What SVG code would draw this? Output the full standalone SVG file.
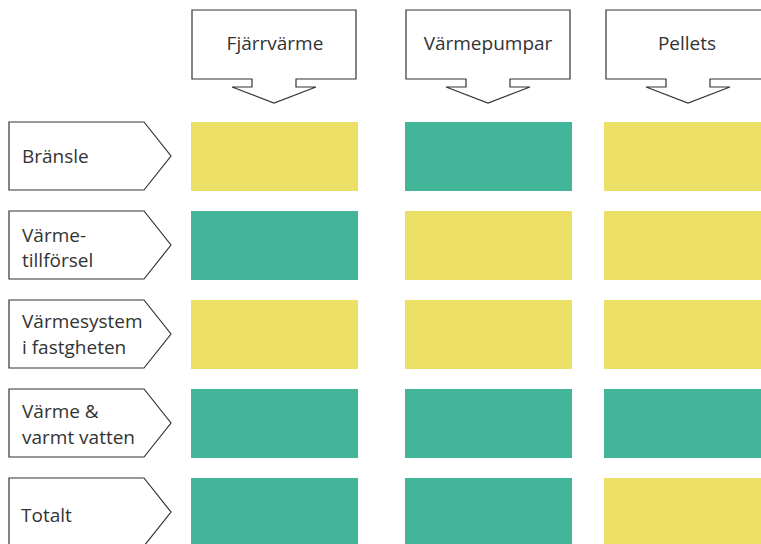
<svg xmlns="http://www.w3.org/2000/svg" xmlns:xlink="http://www.w3.org/1999/xlink" width="761" height="544" viewBox="0 0 761 544">
<style>
.shape{fill:#ffffff;stroke:#333333;stroke-width:1.2;stroke-linejoin:miter}
.t{font-family:"Open Sans","Noto Sans","Liberation Sans",sans-serif;font-size:19px;fill:#333333}
.h{text-anchor:middle}
.y{fill:#ECDF66}
.g{fill:#42B497}
</style>
<defs>
<path id="hdr" d="M-82,10 H82 V79 H22 V87 H42 L0,103 L-42,87 H-22 V79 H-82 Z"/>
<path id="lbl" d="M9,0 H144 L171,34 L144,68 H9 Z"/>
</defs>
<rect width="761" height="544" fill="#ffffff"/>
<g id="col-fjarrvarme">
<use xlink:href="#hdr" class="shape" transform="translate(274,0)"/>
<text class="t h" x="275" y="50">Fjärrvärme</text>
</g>
<g id="col-varmepumpar">
<use xlink:href="#hdr" class="shape" transform="translate(488,0)"/>
<text class="t h" x="488" y="50">Värmepumpar</text>
</g>
<g id="col-pellets">
<use xlink:href="#hdr" class="shape" transform="translate(688,0)"/>
<text class="t h" x="687" y="50">Pellets</text>
</g>
<g id="row-bransle">
<use xlink:href="#lbl" class="shape" transform="translate(0,122)"/>
<text class="t" x="22" y="163">Bränsle</text>
</g>
<g id="row-varmetillforsel">
<use xlink:href="#lbl" class="shape" transform="translate(0,211)"/>
<text class="t" x="22" y="242">Värme-</text>
<text class="t" x="22" y="267">tillförsel</text>
</g>
<g id="row-varmesystem">
<use xlink:href="#lbl" class="shape" transform="translate(0,300)"/>
<text class="t" x="22" y="328">Värmesystem</text>
<text class="t" x="22" y="354">i fastgheten</text>
</g>
<g id="row-varme-vatten">
<use xlink:href="#lbl" class="shape" transform="translate(0,389)"/>
<text class="t" x="22" y="418">Värme &amp;</text>
<text class="t" x="22" y="444">varmt vatten</text>
</g>
<g id="row-totalt">
<use xlink:href="#lbl" class="shape" transform="translate(0,478)"/>
<text class="t" x="21" y="522">Totalt</text>
</g>
<g id="cells">
<rect class="y" x="191" y="122" width="167" height="69"/>
<rect class="g" x="405" y="122" width="167" height="69"/>
<rect class="y" x="604" y="122" width="167" height="69"/>
<rect class="g" x="191" y="211" width="167" height="69"/>
<rect class="y" x="405" y="211" width="167" height="69"/>
<rect class="y" x="604" y="211" width="167" height="69"/>
<rect class="y" x="191" y="300" width="167" height="69"/>
<rect class="y" x="405" y="300" width="167" height="69"/>
<rect class="y" x="604" y="300" width="167" height="69"/>
<rect class="g" x="191" y="389" width="167" height="69"/>
<rect class="g" x="405" y="389" width="167" height="69"/>
<rect class="g" x="604" y="389" width="167" height="69"/>
<rect class="g" x="191" y="478" width="167" height="69"/>
<rect class="g" x="405" y="478" width="167" height="69"/>
<rect class="y" x="604" y="478" width="167" height="69"/>
</g>
<g id="connectors"></g>
</svg>
